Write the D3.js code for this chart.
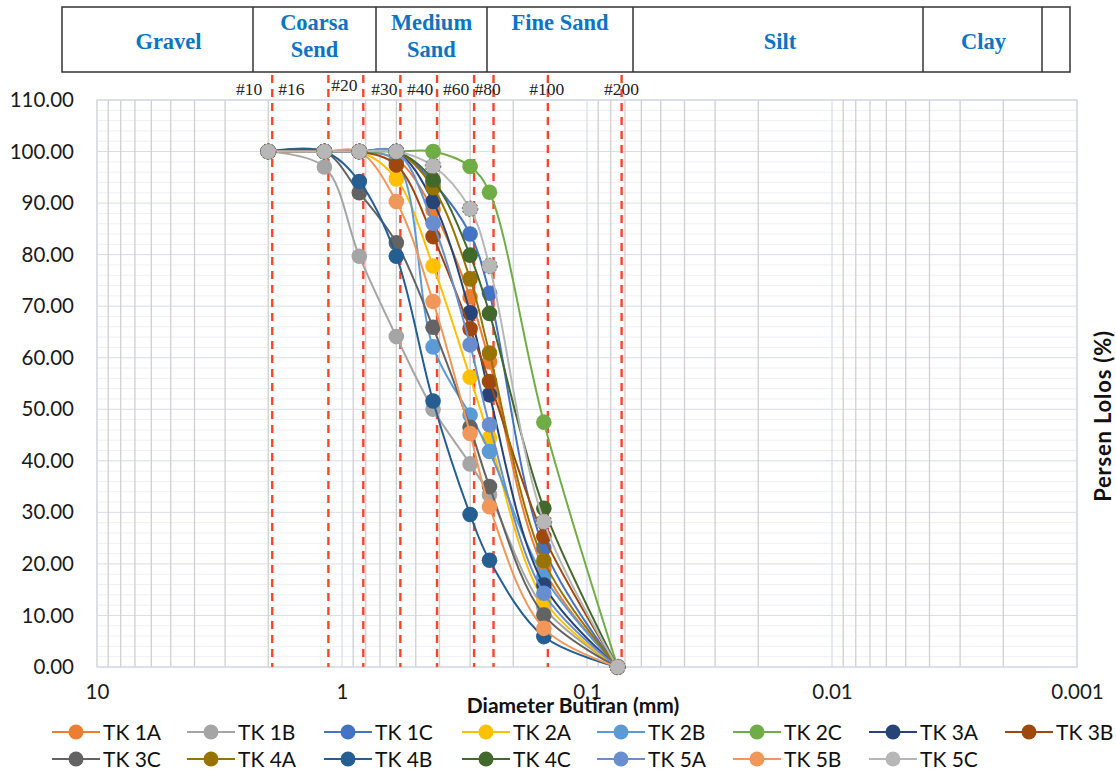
<!DOCTYPE html>
<html>
<head>
<meta charset="utf-8">
<script src="https://cdn.jsdelivr.net/npm/d3@7"></script>
<style>
  html, body { margin: 0; padding: 0; background: #fff; }
  svg { display: block; }
</style>
</head>
<body>
<div id="chart-div"></div>
<script>
// sieve openings (mm) for each measured point
const SIZES = [2.0, 1.18, 0.85, 0.6, 0.425, 0.3, 0.25, 0.15, 0.075];

// red sieve markers at the top
const SIEVE_SIZES = [2.0, 1.18, 0.85, 0.6, 0.425, 0.3, 0.25, 0.15, 0.075];
const SIEVE_LABELS = ['#10', '#16', '#20', '#30', '#40', '#60', '#80', '#100', '#200'];

const SERIES_NAMES = ['TK 1A', 'TK 1B', 'TK 1C', 'TK 2A', 'TK 2B', 'TK 2C', 'TK 3A', 'TK 3B',
  'TK 3C', 'TK 4A', 'TK 4B', 'TK 4C', 'TK 5A', 'TK 5B', 'TK 5C'];

// percent passing, one array per sample
const TK1A = [100, 100, 100, 98.5, 88.7, 71.8, 59.2, 19.0, 0];
const TK1B = [100, 97.0, 79.7, 64.1, 50.0, 39.4, 33.4, 11.5, 0];
const TK1C = [100, 100, 100, 100, 94.0, 84.0, 72.5, 23.1, 0];
const TK2A = [100, 100, 100, 94.7, 77.8, 56.2, 44.4, 13.0, 0];
const TK2B = [100, 100, 100, 98.0, 62.1, 48.9, 41.8, 17.5, 0];
const TK2C = [100, 100, 100, 100, 100, 97.1, 92.1, 47.5, 0];
const TK3A = [100, 100, 100, 100, 90.3, 68.7, 52.8, 15.9, 0];
const TK3B = [100, 100, 100, 97.4, 83.5, 65.6, 55.4, 25.3, 0];
const TK3C = [100, 100, 92.0, 82.3, 65.9, 46.5, 35.0, 10.1, 0];
const TK4A = [100, 100, 100, 100, 93.0, 75.3, 60.9, 20.6, 0];
const TK4B = [100, 100, 94.2, 79.7, 51.6, 29.6, 20.7, 5.9, 0];
const TK4C = [100, 100, 100, 100, 94.5, 79.9, 68.6, 30.8, 0];
const TK5A = [100, 100, 100, 100, 86.1, 62.5, 47.0, 14.3, 0];
const TK5B = [100, 100, 100, 90.3, 70.9, 45.3, 31.1, 7.5, 0];
const TK5C = [100, 100, 100, 100, 97.2, 88.9, 77.8, 28.2, 0];

const SERIES_VALUES = [TK1A, TK1B, TK1C, TK2A, TK2B, TK2C, TK3A, TK3B, TK3C, TK4A, TK4B, TK4C, TK5A, TK5B, TK5C];

const COLORS = ['#ED7D31', '#A5A5A5', '#4472C4', '#FFC000', '#5B9BD5', '#70AD47', '#264478', '#9E480E',
  '#636363', '#997300', '#255E91', '#43682B', '#698ED0', '#F1975A', '#B7B7B7'];

const X_TICKS = [10, 1, 0.1, 0.01, 0.001];
const Y_TICKS = [0, 10, 20, 30, 40, 50, 60, 70, 80, 90, 100, 110];

// soil classification header
const ZONE_NAMES = [['Gravel'], ['Coarsa', 'Send'], ['Medium', 'Sand'], ['Fine Sand'], ['Silt'], ['Clay'], []];

// Layout constants
const WIDTH = 1116;
const HEIGHT = 771;
const PLOT = { left: 97, right: 1077, top: 100, bottom: 667 };
const ZONE_EDGES = [62, 253, 376, 487, 633, 923, 1042, 1070];
const ZONE_TEXT_DX = [11, 0, 0, 0, 2, 1, 0];
const HEADER = { top: 7, bottom: 72 };
const SIEVE_SHIFT = 4;
const LABEL_NUDGE = [[-23, 0], [-37, 0], [-19, -4], [-16, 0], [-17, 0], [-18, 0], [-6, 0], [-1, 0], [0, 0]];
const NUM_FONT = 'Lato, "Open Sans", sans-serif';
const SERIF = '"Liberation Serif", "DejaVu Serif", serif';

let svg, x, y;

setup();

function setup () {
  svg = d3.select('#chart-div')
    .append('svg')
    .attr('width', WIDTH)
    .attr('height', HEIGHT);

  x = d3.scaleLog()
    .domain([10, 0.001])
    .range([PLOT.left, PLOT.right]);

  y = d3.scaleLinear()
    .domain([0, 110])
    .range([PLOT.bottom, PLOT.top]);

  drawHeader();
  drawGrid();
  drawAxes();
  drawSieves();
  drawSeries();
  drawLegend();
}

function drawHeader () {
  const g = svg.append('g').attr('class', 'header');

  g.append('rect')
    .attr('x', ZONE_EDGES[0])
    .attr('y', HEADER.top)
    .attr('width', ZONE_EDGES[ZONE_EDGES.length - 1] - ZONE_EDGES[0])
    .attr('height', HEADER.bottom - HEADER.top)
    .attr('fill', 'none')
    .attr('stroke', '#333')
    .attr('stroke-width', 1.5);

  ZONE_EDGES.slice(1, -1).forEach(ex => {
    g.append('line')
      .attr('x1', ex).attr('x2', ex)
      .attr('y1', HEADER.top).attr('y2', HEADER.bottom)
      .attr('stroke', '#333')
      .attr('stroke-width', 1.5);
  });

  ZONE_NAMES.forEach((lines, i) => {
    const cx = (ZONE_EDGES[i] + ZONE_EDGES[i + 1]) / 2 + ZONE_TEXT_DX[i];
    let ys;
    if (lines.length === 2) ys = [30, 57];
    else if (lines[0] === 'Fine Sand') ys = [30];
    else ys = [49];
    lines.forEach((t, j) => {
      g.append('text')
        .attr('x', cx)
        .attr('y', ys[j])
        .attr('text-anchor', 'middle')
        .attr('font-family', SERIF)
        .attr('font-weight', 'bold')
        .attr('font-size', 22.5)
        .attr('fill', '#0B74C4')
        .text(t);
    });
  });
}

function drawGrid () {
  const g = svg.append('g').attr('class', 'grid');

  // horizontal minor / major lines
  d3.range(0, 111, 2).forEach(v => {
    g.append('line')
      .attr('x1', PLOT.left).attr('x2', PLOT.right)
      .attr('y1', y(v)).attr('y2', y(v))
      .attr('stroke', v % 10 === 0 ? '#DADDE8' : '#EEF0F5')
      .attr('stroke-width', 1);
  });

  // vertical log minor lines
  const minors = [];
  [10, 1, 0.1, 0.01].forEach(dec => {
    for (let k = 9; k >= 2; k--) minors.push(dec * k / 10);
  });
  minors.forEach(v => {
    g.append('line')
      .attr('x1', x(v)).attr('x2', x(v))
      .attr('y1', PLOT.top).attr('y2', PLOT.bottom)
      .attr('stroke', '#D0D0D0')
      .attr('stroke-width', 1.3);
  });
  X_TICKS.forEach(v => {
    g.append('line')
      .attr('x1', x(v)).attr('x2', x(v))
      .attr('y1', PLOT.top).attr('y2', PLOT.bottom)
      .attr('stroke', '#DADDE8')
      .attr('stroke-width', 1.3);
  });

  g.append('rect')
    .attr('x', PLOT.left).attr('y', PLOT.top)
    .attr('width', PLOT.right - PLOT.left)
    .attr('height', PLOT.bottom - PLOT.top)
    .attr('fill', 'none')
    .attr('stroke', '#D5D8E2')
    .attr('stroke-width', 1.3);
}

function drawAxes () {
  const yAxis = d3.axisLeft(y)
    .tickValues(Y_TICKS)
    .tickFormat(d3.format('.2f'))
    .tickSize(0)
    .tickPadding(23);

  const gy = svg.append('g')
    .attr('class', 'y-axis')
    .attr('transform', `translate(${PLOT.left}, 0)`)
    .call(yAxis);
  gy.select('.domain').remove();
  gy.selectAll('text')
    .attr('font-family', NUM_FONT)
    .attr('font-size', 20.5)
    .attr('fill', '#1a1a1a');

  const xAxis = d3.axisBottom(x)
    .tickValues(X_TICKS)
    .tickFormat(d => String(d))
    .tickSize(0)
    .tickPadding(17);

  const gx = svg.append('g')
    .attr('class', 'x-axis')
    .attr('transform', `translate(0, ${PLOT.bottom})`)
    .call(xAxis);
  gx.select('.domain').remove();
  gx.selectAll('text')
    .attr('font-family', NUM_FONT)
    .attr('font-size', 20.5)
    .attr('fill', '#1a1a1a');

  svg.append('text')
    .attr('x', 573)
    .attr('y', 713)
    .attr('text-anchor', 'middle')
    .attr('font-family', NUM_FONT)
    .attr('font-weight', 'bold')
    .attr('font-size', 21)
    .attr('fill', '#111')
    .text('Diameter Butiran (mm)');

  svg.append('text')
    .attr('transform', `translate(1111, 416) rotate(-90)`)
    .attr('text-anchor', 'middle')
    .attr('font-family', NUM_FONT)
    .attr('font-weight', 'bold')
    .attr('font-size', 22)
    .attr('letter-spacing', 0.8)
    .attr('fill', '#111')
    .text('Persen Lolos (%)');
}

function drawSieves () {
  const g = svg.append('g').attr('class', 'sieves');

  SIEVE_SIZES.forEach((s, i) => {
    const sx = x(s) + SIEVE_SHIFT;
    g.append('line')
      .attr('x1', sx).attr('x2', sx)
      .attr('y1', HEADER.bottom + 3).attr('y2', PLOT.bottom)
      .attr('stroke', '#FF4526')
      .attr('stroke-width', 2.4)
      .attr('stroke-dasharray', '8,6');

    g.append('text')
      .attr('x', sx + LABEL_NUDGE[i][0])
      .attr('y', 95 + LABEL_NUDGE[i][1])
      .attr('text-anchor', 'middle')
      .attr('font-family', SERIF)
      .attr('font-size', 17.5)
      .attr('fill', '#222')
      .text(SIEVE_LABELS[i]);
  });
}

function drawSeries () {
  const lineGenerator = d3.line()
    .x(d => x(d.size))
    .y(d => y(d.value))
    .curve(d3.curveCatmullRom.alpha(0.5));

  SERIES_NAMES.forEach((name, i) => {
    const data = SIZES.map((s, j) => ({ size: s, value: SERIES_VALUES[i][j] }));
    const g = svg.append('g').attr('class', 'series');

    g.append('path')
      .datum(data)
      .attr('d', lineGenerator)
      .attr('fill', 'none')
      .attr('stroke', COLORS[i])
      .attr('stroke-width', 2);

    const pts = g.selectAll('circle')
      .data(data)
      .enter()
      .append('circle')
      .attr('cx', d => x(d.size))
      .attr('cy', d => y(d.value))
      .attr('r', 7.8)
      .attr('fill', COLORS[i]);

    if (i === SERIES_NAMES.length - 1) {
      pts.attr('stroke', '#6a6a6a')
        .attr('stroke-width', 1)
        .attr('stroke-dasharray', '2,2');
    }
  });
}

function drawLegend () {
  const g = svg.append('g').attr('class', 'legend');
  const colX = [76, 211, 348, 486, 621, 757, 893, 1029];
  const rowY = [732, 759];

  SERIES_NAMES.forEach((name, i) => {
    const cx = colX[i % 8];
    const cy = rowY[Math.floor(i / 8)];
    g.append('line')
      .attr('x1', cx - 24).attr('x2', cx + 24)
      .attr('y1', cy).attr('y2', cy)
      .attr('stroke', COLORS[i])
      .attr('stroke-width', 2);
    g.append('circle')
      .attr('cx', cx).attr('cy', cy)
      .attr('r', 7.5)
      .attr('fill', COLORS[i]);
    g.append('text')
      .attr('x', cx + 27)
      .attr('y', cy + 7.5)
      .attr('font-family', NUM_FONT)
      .attr('font-size', 21)
      .attr('fill', '#111')
      .text(name);
  });
}
</script>
</body>
</html>
